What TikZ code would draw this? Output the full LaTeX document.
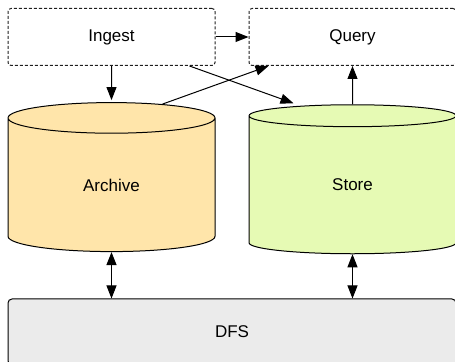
\documentclass[tikz,border=0pt]{standalone}
\usepackage{fontspec}
\setmainfont{Liberation Sans}
\usepackage{tikz}
\usetikzlibrary{positioning, arrows.meta, calc, shapes.geometric}
\definecolor{archivefill}{RGB}{255,229,170}
\definecolor{storefill}{RGB}{230,250,180}
\definecolor{dfsfill}{RGB}{235,235,235}
\definecolor{edgegray}{RGB}{30,30,30}
\tikzset{
  service/.style={
    rectangle, draw=edgegray, line width=0.5pt, dash pattern=on 1.5pt off 1pt,
    rounded corners=1.5pt, minimum width=103.5pt, minimum height=28.5pt,
    inner sep=0pt, font=\fontsize{8.5}{10}\selectfont
  },
  database/.style={
    cylinder, shape border rotate=90, aspect=0.54, draw=black, line width=0.5pt,
    minimum width=103.5pt, minimum height=74.5pt, inner sep=0pt,
    font=\fontsize{8.5}{10}\selectfont
  },
  storage/.style={
    rectangle, draw=black, line width=0.5pt, rounded corners=2pt, fill=dfsfill,
    minimum width=224pt, minimum height=33pt, inner sep=0pt,
    font=\fontsize{8.5}{10}\selectfont
  },
  flow/.style={draw, line width=0.5pt, -{Triangle[length=6.5pt, width=5pt]}},
  sync/.style={draw, line width=0.5pt,
    {Triangle[length=6.5pt, width=5pt]}-{Triangle[length=6.5pt, width=5pt]}},
}

\begin{document}
\begin{tikzpicture}[x=0.5pt, y=0.5pt]
  \useasboundingbox (0,0) rectangle (455,362);

  % Services
  \node[service] (ingest) at (111.5, 325) {Ingest};
  \node[service] (query) at (352.5, 325) {Query};

  % Databases
  \node[database, fill=archivefill] (archive) at (111.5, 177) {Archive};
  \node[database, fill=storefill] (store) at (352.5, 177) {Store};

  % File system
  \node[storage] (dfs) at (232, 30) {DFS};

  % Data flow
  \draw[flow] (ingest.east) -- (query.west);
  \draw[flow] (ingest.south) -- ([yshift=1pt]archive.north);
  \draw[flow] ([xshift=39pt]ingest.south) -- ([xshift=-29.5pt, yshift=0.5pt]store.north);
  \draw[flow] ([xshift=25.5pt, yshift=-1pt]archive.north) -- ([xshift=-42pt]query.south);
  \draw[flow] (store.north) -- (query.south);

  % Replication
  \draw[sync] (archive.south) -- (dfs.north -| archive.south);
  \draw[sync] (store.south) -- (dfs.north -| store.south);

\end{tikzpicture}
\end{document}
